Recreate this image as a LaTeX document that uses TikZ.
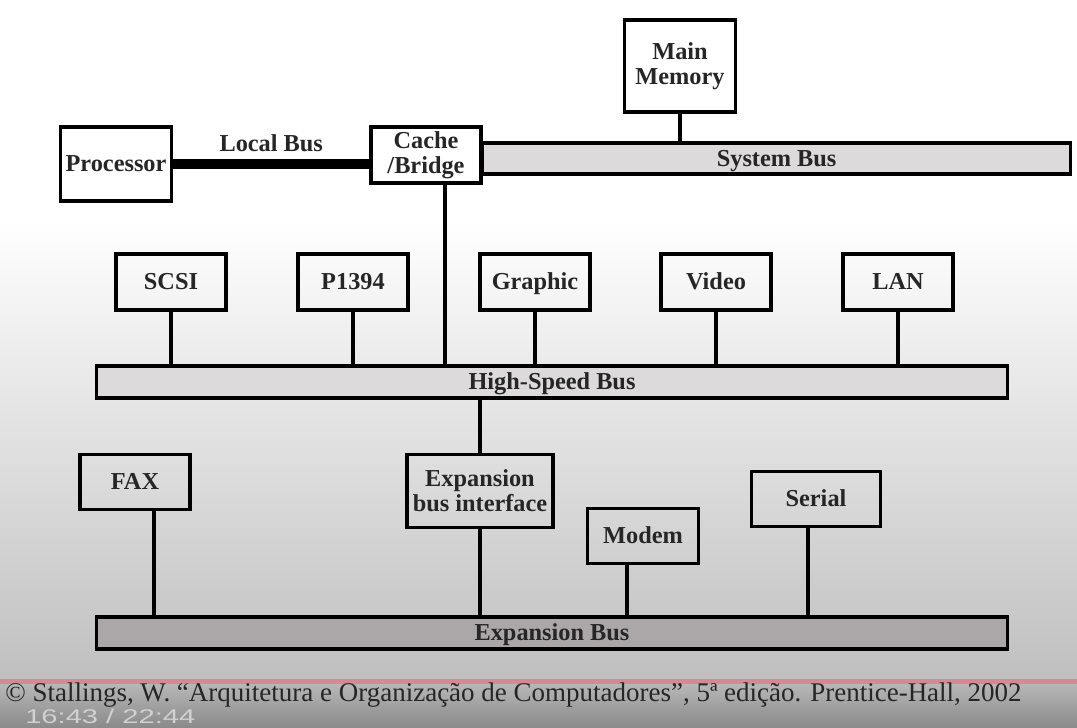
\documentclass[tikz,border=0pt]{standalone}
\usepackage{fontspec}
\setmainfont{Liberation Serif}
\setsansfont{Liberation Sans}
\usetikzlibrary{calc}
\definecolor{busfill}{HTML}{DCDADB}
\definecolor{expfill}{HTML}{ABA7A8}
\definecolor{playred}{HTML}{D68896}
\begin{document}
\begin{tikzpicture}[x=0.025cm,y=-0.025cm]
	\def \toprow{155}
	\def \devrow{282}
	\def \hsrow{382}
	\def \exprow{633}
	\tikzstyle{u-node}=[rectangle,draw=black,line width=2.2pt,inner sep=1pt,text=black!85,align=center,font=\bfseries\fontsize{17.3}{17.5}\selectfont]
	\tikzstyle{d-node}=[u-node,minimum width=2.75cm,minimum height=1.4cm]
	\tikzstyle{one-line}=[text height=12.2pt,text depth=1.2pt]
	\tikzstyle{bus}=[u-node,one-line,fill=busfill,minimum height=0.8cm]
	\tikzstyle{wire}=[draw=black,line width=2.8pt]

	% background
	\useasboundingbox (0,0) rectangle (1077,728);
	\fill[white] (0,0) rectangle (1077,728);
	\shade[top color=white,bottom color=black!25] (0,220) rectangle (1077,681);
	\shade[top color=black!27,bottom color=black!46] (0,681) rectangle (1077,728);
	\fill[playred] (0,679) rectangle (1077,684);

	% processor, cache, memory
	\node[u-node,minimum width=2.775cm,minimum height=2.3cm] (mem) at (680,66) {Main\\Memory};
	\node[u-node,one-line,minimum width=2.775cm,minimum height=1.85cm] (proc) at (116,164) {Processor};
	\node[d-node] (cache) at (426,\toprow) {Cache\\/Bridge};
	\node[bus,minimum width=14.7cm,minimum height=0.775cm,anchor=west] (sysbus) at (481,158.5) {System Bus};

	% devices on the high-speed bus
	\node[d-node,one-line] (scsi) at (171,\devrow) {SCSI};
	\node[d-node,one-line] (p1394) at (353,\devrow) {P1394};
	\node[d-node,one-line] (graphic) at (535,\devrow) {Graphic};
	\node[d-node,one-line] (video) at (716,\devrow) {Video};
	\node[d-node,one-line] (lan) at (898,\devrow) {LAN};
	\node[bus,minimum width=22.775cm] (hsbus) at (552,\hsrow) {High-Speed Bus};

	% expansion bus
	\node[d-node,one-line,minimum height=1.375cm] (fax) at (135,482) {FAX};
	\node[u-node,minimum width=3.65cm,minimum height=1.825cm] (ebi) at (480,491) {Expansion\\bus interface};
	\node[d-node,one-line,minimum width=2.775cm,minimum height=1.375cm] (modem) at (643,536) {Modem};
	\node[d-node,one-line,minimum width=3.225cm,minimum height=1.375cm] (serial) at (816,499) {Serial};
	\node[bus,fill=expfill,minimum width=22.775cm] (expbus) at (552,\exprow) {Expansion Bus};

	% local bus
	\draw[line width=7pt] (proc.east) -- (proc.east -| cache.west)
		node[midway,above=2pt,text=black!85,font=\bfseries\fontsize{17.3}{17.5}\selectfont] (lbus) {Local Bus};

	\path[wire]
		(mem.south)	edge	(mem.south |- sysbus.north)
		([xshift=0.475cm]cache.south)	edge	([xshift=0.475cm]cache.south |- hsbus.north)
		(scsi.south)	edge	(scsi.south |- hsbus.north)
		(p1394.south)	edge	(p1394.south |- hsbus.north)
		(graphic.south)	edge	(graphic.south |- hsbus.north)
		(video.south)	edge	(video.south |- hsbus.north)
		(lan.south)	edge	(lan.south |- hsbus.north)
		(hsbus.south -| ebi.north)	edge	(ebi.north)
		([xshift=0.475cm]fax.south)	edge	([xshift=0.475cm]fax.south |- expbus.north)
		(ebi.south)	edge	(ebi.south |- expbus.north)
		([xshift=-0.4cm]modem.south)	edge	([xshift=-0.4cm]modem.south |- expbus.north)
		([xshift=-0.2cm]serial.south)	edge	([xshift=-0.2cm]serial.south |- expbus.north);

	% source and player time
	\node[anchor=west,inner sep=0pt,text=black!85] (cite) at (5,695)
		{\resizebox{25.4cm}{!}{© Stallings, W. “Arquitetura e Organização de Computadores”, 5ª edição. Prentice-Hall, 2002}};
	\node[anchor=west,inner sep=0pt,text=white!82!black] (clock) at (25,716)
		{\resizebox{4.25cm}{0.36cm}{\sffamily 16:43 / 22:44}};
\end{tikzpicture}
\end{document}
